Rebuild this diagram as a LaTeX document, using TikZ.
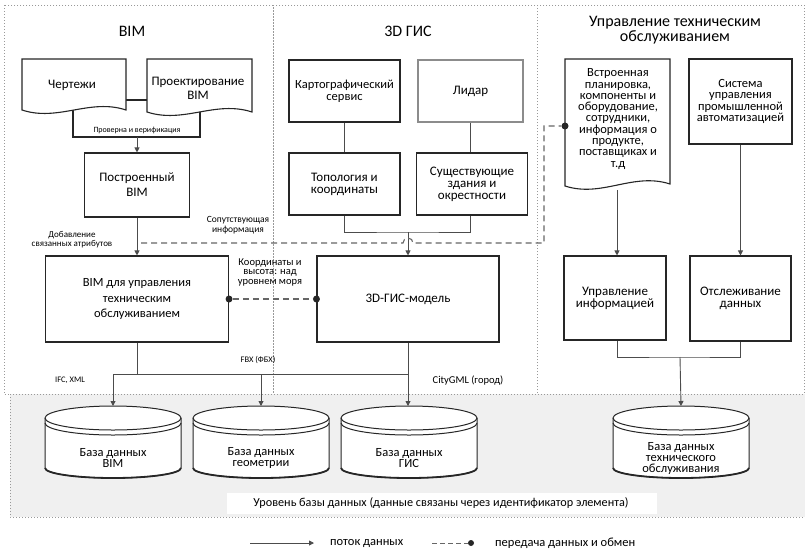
\documentclass[tikz,border=0pt]{standalone}
\usepackage{fontspec}
\setmainfont{Carlito}
\usetikzlibrary{arrows.meta}
\tikzset{
  boxsty/.style={draw=black!85, line width=1.1pt, fill=white, inner sep=1pt, align=center, font=\fontsize{13}{12}\selectfont},
  docsty/.style={draw=black!85, line width=1.1pt, fill=white},
  conn/.style={draw=black!70, line width=0.9pt},
  arr/.style={conn, -{Triangle[length=5pt,width=5pt]}},
  dashc/.style={draw=black!60, line width=1.1pt, dash pattern=on 6pt off 4pt},
  panel/.style={draw=black!40, line width=0.7pt, dash pattern=on 1pt off 2pt},
  dotend/.style={circle, fill=black!85, inner sep=0pt, minimum size=7pt},
  smalllab/.style={align=center, inner sep=0pt, font=\fontsize{9}{9}\selectfont},
  titlesty/.style={align=center, inner sep=0pt, font=\fontsize{16}{13}\selectfont},
  txt/.style={align=center, inner sep=0pt, font=\fontsize{12.2}{10}\selectfont},
}
\newcommand\dbcyl[3]{%
  \filldraw[draw=black!85, line width=1pt, fill=white]
    (#1-68,418) -- (#1-68,468) arc[start angle=180, end angle=360, x radius=68pt, y radius=10pt]
    -- (#1+68,418) arc[start angle=0, end angle=180, x radius=68pt, y radius=12pt] -- cycle;
  \draw[black!85, line width=1pt] (#1-68,418) arc[start angle=180, end angle=360, x radius=68pt, y radius=12pt];
  \draw[black!85, line width=1pt] (#1-68,423) arc[start angle=180, end angle=360, x radius=68pt, y radius=12pt];
  \draw[black!85, line width=1.8pt] (#1-68,468) arc[start angle=180, end angle=360, x radius=68pt, y radius=10pt];
  \coordinate (#2top) at (#1,406);
  \node[align=center, inner sep=0pt, font=\fontsize{12.5}{11}\selectfont] (#2) at (#1,458) {#3};
}
\begin{document}
\begin{tikzpicture}[x=1pt, y=-1pt]
\useasboundingbox (0,0) rectangle (805,549);
% panels
\draw[panel] (4,5) rectangle (273,394);
\draw[panel] (273,5) rectangle (537,394);
\draw[panel] (537,5) rectangle (804,394);
% database layer
\fill[black!6] (10,394) rectangle (805,517);
\draw[panel] (10,394) -- (805,394);
\draw[panel] (10,394) -- (10,517) -- (805,517);
\fill[white] (227,493) rectangle (657,514);
\node[txt] (layer) at (441,503) {Уровень базы данных (данные связаны через идентификатор элемента)};

% titles
\node[titlesty] (tbim) at (132,31) {BIM};
\node[titlesty] (tgis) at (408,31) {3D ГИС};
\node[titlesty] (tfm) at (675,30) {Управление техническим\\обслуживанием};

% BIM panel
\draw[black!85, line width=1.1pt, fill=white] (73,100) rectangle (200,137);
\filldraw[docsty] (22,59) -- (126,59) -- (126,110) .. controls (90,98) and (58,122) .. (22,110) -- cycle;
\filldraw[docsty] (147,59) -- (252,59) -- (252,112) .. controls (215,100) and (184,124) .. (147,112) -- cycle;
\node[boxsty, draw=none, fill=none] (drw) at (72,85) {Чертежи};
\node[boxsty, draw=none, fill=none, font=\fontsize{13}{14}\selectfont] (bimd) at (198,88) {Проектирование\\BIM};
\node[inner sep=0pt, font=\fontsize{8}{8}\selectfont] (chk) at (137,130) {Проверна и верификация};
\coordinate (chkb) at (137,137);
\node[boxsty, minimum width=105pt, minimum height=64pt, font=\fontsize{13}{15}\selectfont] (build) at (137,185) {Построенный\\BIM};
\node[boxsty, minimum width=183pt, minimum height=86pt, font=\fontsize{12.5}{15.5}\selectfont] (bimfm) at (137,299) {BIM для управления\\техническим\\обслуживанием};
\draw[arr] (chkb) -- (build.north);
\draw[arr] (build.south) -- (bimfm.north);
\node[smalllab] (addl) at (72,240) {Добавление\\связанных атрибутов};
\node[smalllab, font=\fontsize{9.5}{9.5}\selectfont] (accl) at (238,225) {Сопутствующая\\информация};

% GIS panel
\node[boxsty, minimum width=111pt, minimum height=62pt, font=\fontsize{12.5}{12}\selectfont] (karto) at (344.5,91) {Картографический\\сервис};
\node[boxsty, minimum width=105pt, minimum height=62pt, draw=black!45] (lidar) at (470.5,91) {Лидар};
\node[boxsty, minimum width=111pt, minimum height=62pt] (topo) at (344.5,184) {Топология и\\координаты};
\node[boxsty, minimum width=111pt, minimum height=62pt, line width=1.4pt] (exist) at (472,184) {Существующие\\здания и\\окрестности};
\node[boxsty, minimum width=182pt, minimum height=86pt] (gis) at (408,299) {3D-ГИС-модель};
\draw[conn] (karto.south) -- (topo.north);
\draw[conn] (lidar.south) -- (lidar.south |- exist.north);
\coordinate (gj) at (408,232);
\draw[conn] (topo.south) |- (gj) -| (lidar.south |- exist.south);
\draw[arr] (gj) -- (gis.north);

% Maintenance panel
\filldraw[docsty] (565,59) -- (670,59) -- (670,184) .. controls (633,172) and (602,198) .. (565,186) -- cycle;
\node[align=center, inner sep=0pt, font=\fontsize{12.5}{11.3}\selectfont] (emb) at (618,119) {Встроенная\\планировка,\\компоненты и\\оборудование,\\сотрудники,\\информация о\\продукте,\\поставщиках и\\т.д};
\node[boxsty, minimum width=103pt, minimum height=85pt, font=\fontsize{12.5}{11.3}\selectfont] (sys) at (740.5,101.5) {Система\\управления\\промышленной\\автоматизацией};
\node[boxsty, minimum width=102pt, minimum height=84pt, font=\fontsize{13}{12}\selectfont] (info) at (615,298) {Управление\\информацией};
\node[boxsty, minimum width=101pt, minimum height=85pt, font=\fontsize{13}{12}\selectfont] (track) at (740.5,298.5) {Отслеживание\\данных};
\coordinate (embb) at (617,190);
\draw[arr] (embb) -- (embb |- info.north);
\draw[arr] (sys.south) -- (track.north);
\coordinate (mj) at (680,357);
\draw[conn] (embb |- info.south) |- (mj) -| (track.south);

% databases
\dbcyl{113}{db1}{База данных\\BIM}
\dbcyl{261}{db2}{База данных\\геометрии}
\dbcyl{409}{db3}{База данных\\ГИС}
\dbcyl{681}{db4}{База данных\\технического\\обслуживания}

% outputs to databases
\coordinate (bj) at (137,374);
\coordinate (hl) at (113,374);
\coordinate (hm) at (261,374);
\coordinate (hr) at (408,374);
\draw[conn] (bimfm.south) -- (bj);
\draw[conn] (hl) -- (hr);
\draw[arr] (hl) -- (db1top);
\draw[arr] (hm) -- (db2top);
\draw[arr] (gis.south) -- (gis.south |- db3top);
\draw[arr] (mj) -- (db4top);
\node[smalllab, font=\fontsize{8.5}{8}\selectfont] (ifc) at (70,380) {IFC, XML};
\node[smalllab, font=\fontsize{8.5}{8}\selectfont] (fbx) at (258,360) {FBX (ФБХ)};
\node[inner sep=0pt, font=\fontsize{10.5}{10}\selectfont] (city) at (468,381) {CityGML (город)};

% dashed exchanges
\coordinate (ds) at (141,243);
\coordinate (dc) at (544,243);
\coordinate (dt) at (544,126);
\node[dotend] (dembd) at (565,126) {};
\draw[dashc] (ds) -- (403,243) arc[start angle=180, end angle=0, radius=5pt] -- (dc) -- (dt) -- (dembd);
\node[dotend] (d1) at (bimfm.east) {};
\node[dotend] (d2) at (gis.west) {};
\draw[dashc] (d1) -- (d2);
\node[align=center, inner sep=0pt, font=\fontsize{10.5}{9.5}\selectfont] (coordl) at (270,272) {Координаты и\\высота: над\\уровнем моря};

% legend
\coordinate (la1) at (250,543);
\coordinate (la2) at (314,543);
\draw[arr] (la1) -- (la2);
\node[anchor=west, inner sep=0pt, font=\fontsize{12.5}{12}\selectfont] (lt1) at (330,543) {поток данных};
\coordinate (lb1) at (432,543);
\node[dotend, minimum size=6pt] (lb2) at (471,543) {};
\draw[dashc, line width=0.9pt, dash pattern=on 5pt off 3pt] (lb1) -- (lb2);
\node[anchor=west, inner sep=0pt, font=\fontsize{12.5}{12}\selectfont] (lt2) at (495,543) {передача данных и обмен};
\end{tikzpicture}
\end{document}
